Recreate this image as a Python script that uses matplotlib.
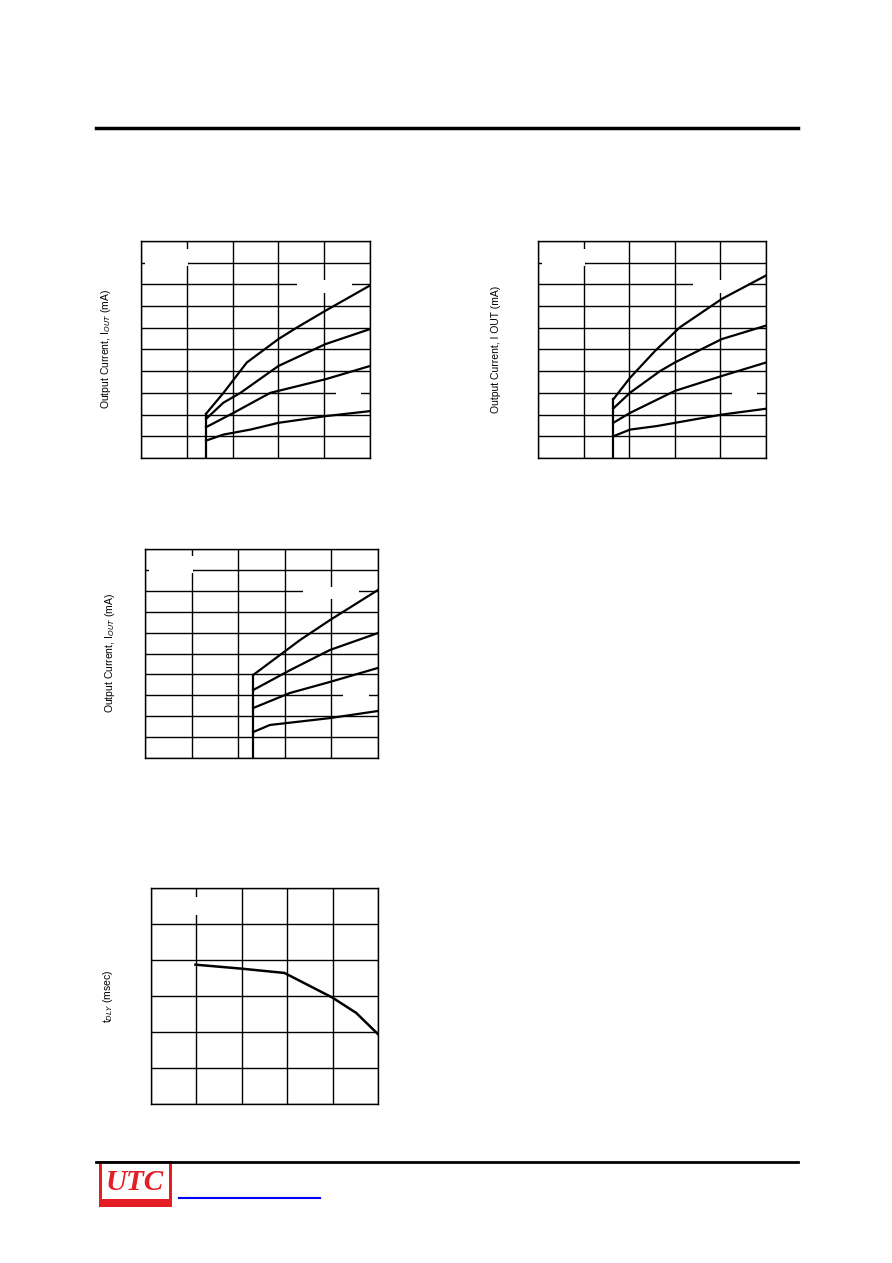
import matplotlib
matplotlib.use("Agg")
import matplotlib.pyplot as plt
from matplotlib.patches import Rectangle

plt.rcParams['font.family'] = ['Liberation Sans', 'DejaVu Sans']

# chart 1 curves (grid units: x 0..5, y 0..10)
c1_x = [[1.42, 1.80, 2.31, 3.00, 3.41, 4.03, 5.00],
        [1.42, 1.80, 2.17, 3.00, 4.03, 5.00],
        [1.42, 2.02, 2.82, 4.03, 5.00],
        [1.42, 1.80, 2.39, 3.00, 4.03, 5.00]]
c1_y = [[2.04, 3.00, 4.40, 5.48, 6.02, 6.79, 7.95],
        [1.80, 2.55, 3.00, 4.24, 5.25, 5.94],
        [1.42, 2.08, 3.00, 3.63, 4.24],
        [0.80, 1.08, 1.31, 1.62, 1.93, 2.16]]
c2_x = [[1.65, 2.02, 2.57, 3.11, 4.03, 5.00],
        [1.65, 2.02, 2.68, 3.00, 4.03, 5.00],
        [1.65, 2.02, 3.00, 4.03, 5.00],
        [1.65, 2.02, 2.60, 4.03, 5.00]]
c2_y = [[2.70, 3.70, 4.94, 6.02, 7.33, 8.41],
        [2.28, 3.01, 4.01, 4.40, 5.48, 6.10],
        [1.62, 2.08, 3.09, 3.78, 4.40],
        [1.00, 1.31, 1.47, 2.00, 2.27]]
c3_x = [[2.32, 3.33, 3.97, 5.00],
        [2.32, 3.11, 3.97, 5.00],
        [2.32, 3.11, 3.97, 5.00],
        [2.32, 2.68, 3.97, 5.00]]
c3_y = [[3.97, 5.65, 6.60, 8.04],
        [3.25, 4.20, 5.17, 5.98],
        [2.39, 3.11, 3.64, 4.31],
        [1.24, 1.58, 1.91, 2.25]]
c4_x = [0.98, 1.99, 2.94, 3.99, 4.52, 5.00]
c4_y = [3.87, 3.76, 3.64, 2.96, 2.53, 1.94]

W, H = 892, 1263
fig = plt.figure(figsize=(W/100, H/100), dpi=100)

def ax_at(x0, y0, x1, y1):
    return fig.add_axes([x0/W, 1-y1/H, (x1-x0)/W, (y1-y0)/H])

def setup(ax, nrows, ylabel, lx):
    ax.set_xlim(0, 5); ax.set_ylim(0, nrows)
    ax.set_xticks(range(6)); ax.set_yticks(range(nrows+1))
    ax.grid(True, color='black', lw=1.0)
    ax.tick_params(length=0, labelleft=False, labelbottom=False)
    for s in ax.spines.values():
        s.set_linewidth(1.0)
        s.set_zorder(5)
    ax.set_axisbelow(True)
    bb = ax.get_position()
    fig.text(lx/W, (bb.y0+bb.y1)/2, ylabel, rotation=90, ha='center', va='center', fontsize=7.5)

def gaps(ax, rects):
    for (x, y, w, h) in rects:
        ax.add_patch(Rectangle((x, y), w, h, facecolor='white', edgecolor='none', zorder=1))

def curves(ax, xs, ys, vx, vy):
    for x, y in zip(xs, ys):
        ax.plot(x, y, color='black', lw=1.6, zorder=3)
    ax.plot([vx, vx], [0, vy], color='black', lw=1.6, zorder=3)

G = [(0.08, 8.85, 0.95, 0.3), (0.93, 9.05, 0.14, 0.6), (3.4, 7.85, 1.2, 0.3),
     (3.93, 7.6, 0.14, 0.6), (4.25, 2.85, 0.55, 0.3)]

a1 = ax_at(141, 241, 370, 458)
setup(a1, 10, 'Output Current, I$_{OUT}$ (mA)', 106)
gaps(a1, G)
curves(a1, c1_x, c1_y, 1.42, 2.04)

a2 = ax_at(538, 241, 766, 458)
setup(a2, 10, 'Output Current, I OUT (mA)', 496)
gaps(a2, G)
curves(a2, c2_x, c2_y, 1.65, 2.70)

a3 = ax_at(145, 549, 378, 758)
setup(a3, 10, 'Output Current, I$_{OUT}$ (mA)', 110)
gaps(a3, G)
curves(a3, c3_x, c3_y, 2.32, 3.97)

a4 = ax_at(151, 888, 378, 1104)
setup(a4, 6, 't$_{DLY}$ (msec)', 108)
gaps(a4, [(0.93, 5.25, 0.14, 0.5)])
a4.plot(c4_x, c4_y, color='black', lw=1.8, zorder=3)

# page decorations
fig.add_artist(plt.Line2D([96/W, 798/W], [1-128/H, 1-128/H], color='black', lw=2.5))
fig.add_artist(plt.Line2D([96/W, 798/W], [1-1162/H, 1-1162/H], color='black', lw=2.0))
fig.add_artist(Rectangle((99/W, 1-1207/H), 73/W, 46/H, facecolor='#e31e24', edgecolor='none'))
fig.add_artist(Rectangle((102/W, 1-1199/H), 67/W, 36/H, facecolor='white', edgecolor='none'))
fig.text(135/W, 1-1182/H, 'UTC', color='#e31e24', fontsize=21, style='italic', weight='bold',
         family=['Liberation Serif'], ha='center', va='center')
fig.add_artist(plt.Line2D([179/W, 320/W], [1-1198/H, 1-1198/H], color='#0000ff', lw=1.5))

fig.savefig('out.png', dpi=100)
